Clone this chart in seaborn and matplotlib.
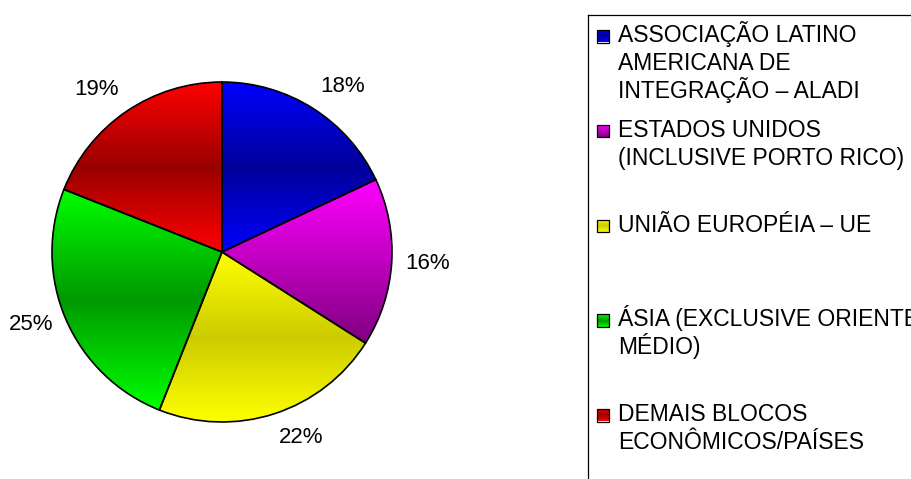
import numpy as np
import matplotlib
matplotlib.use("Agg")
import matplotlib.pyplot as plt
from matplotlib.patches import Rectangle
import seaborn as sns

# Share of exports by destination bloc (%)
categories = [
    "ASSOCIAÇÃO LATINO\nAMERICANA DE\nINTEGRAÇÃO – ALADI",
    "ESTADOS UNIDOS\n(INCLUSIVE PORTO RICO)",
    "UNIÃO EUROPÉIA – UE",
    "ÁSIA (EXCLUSIVE ORIENTE\nMÉDIO)",
    "DEMAIS BLOCOS\nECONÔMICOS/PAÍSES",
]
shares = [18, 16, 22, 25, 19]
pct_labels = [f"{v}%" for v in shares]

# Gradient fills: bright tone, dark tone, and whether the dark tone sits in the
# middle of the slice ("mid") or at its bottom ("down")
bright = ["#0000FF", "#FF00FF", "#FFFF00", "#00FF00", "#FF0000"]
dark = ["#000099", "#800080", "#CCCC00", "#009900", "#990000"]
style = ["mid", "down", "mid", "mid", "mid"]

sns.set_theme(style="white")
plt.rcParams["font.family"] = ["Liberation Sans", "DejaVu Sans"]

W, H, DPI = 912, 479, 100
fig = plt.figure(figsize=(W / DPI, H / DPI), dpi=DPI, facecolor="white")

# Pie axes: centre and radius in pixels, one data unit = radius
PIE_CX, PIE_CY, PIE_R, LIM = 222, 252, 170, 1.3
half = LIM * PIE_R
ax = fig.add_axes([(PIE_CX - half) / W, (H - PIE_CY - half) / H, 2 * half / W, 2 * half / H])


def gradient_array(c_bright, c_dark, kind, n=256):
    b = np.array(matplotlib.colors.to_rgb(c_bright))
    d = np.array(matplotlib.colors.to_rgb(c_dark))
    t = np.linspace(0, 1, n)  # 0 = bottom, 1 = top
    if kind == "mid":
        f = 1 - np.abs(2 * t - 1)
    else:
        f = 1 - t
    return (b[None, :] + (d - b)[None, :] * f[:, None])[:, None, :]


def fill_gradient(axis, patch, extent, c_bright, c_dark, kind):
    im = axis.imshow(gradient_array(c_bright, c_dark, kind), extent=extent,
                     origin="lower", aspect="auto", interpolation="bilinear",
                     zorder=patch.get_zorder() - 0.5)
    im.set_clip_path(patch)


wedges, texts = ax.pie(
    shares, labels=pct_labels, colors=bright, startangle=90, counterclock=False,
    labeldistance=1.08, textprops=dict(fontsize=16, color="black"),
    wedgeprops=dict(edgecolor="black", linewidth=1.2),
)

for w, cb, cd, k in zip(wedges, bright, dark, style):
    bb = w.get_path().get_extents()
    fill_gradient(ax, w, (bb.x0, bb.x1, bb.y0, bb.y1), cb, cd, k)
    w.set_facecolor("none")
    w.set_zorder(2)

# Labels sitting above/below the pie hang from their inner edge
for t in texts:
    x, y = t.get_position()
    if abs(y) > 0.5 * np.hypot(x, y):
        t.set_verticalalignment("bottom" if y > 0 else "top")

ax.set_xlim(-LIM, LIM)
ax.set_ylim(-LIM, LIM)
ax.set_aspect("equal")
ax.axis("off")

# Legend panel (pixel coordinates, y downward from its top edge)
LX, LY = 588, 15
lw_px, lh_px = W - LX, H - LY
lax = fig.add_axes([LX / W, 0, lw_px / W, lh_px / H])
lax.set_xlim(0, lw_px)
lax.set_ylim(lh_px, 0)
lax.set_xticks([])
lax.set_yticks([])
lax.patch.set_alpha(0)
for side in ("right", "bottom"):
    lax.spines[side].set_visible(False)
for side in ("left", "top"):
    lax.spines[side].set_color("black")
    lax.spines[side].set_linewidth(0.9)

first_base, step, pitch = 27, 94.75, 28
sq_x, sq = 9, 12.5
text_x = 30
for i, (lab, cb, cd, k) in enumerate(zip(categories, bright, dark, style)):
    base = first_base + i * step
    box = Rectangle((sq_x, base - sq + 0.5), sq, sq, facecolor="none",
                    edgecolor="black", linewidth=0.9, zorder=3)
    lax.add_patch(box)
    fill_gradient(lax, box, (sq_x, sq_x + sq, base + 0.5, base - sq + 0.5), cb, cd, k)
    for j, line in enumerate(lab.split("\n")):
        lax.text(text_x, base + j * pitch, line, fontsize=16.5, color="black",
                 ha="left", va="baseline", clip_on=False)
lax.set_xlim(0, lw_px)
lax.set_ylim(lh_px, 0)

fig.savefig("out.png", dpi=DPI, facecolor="white")
